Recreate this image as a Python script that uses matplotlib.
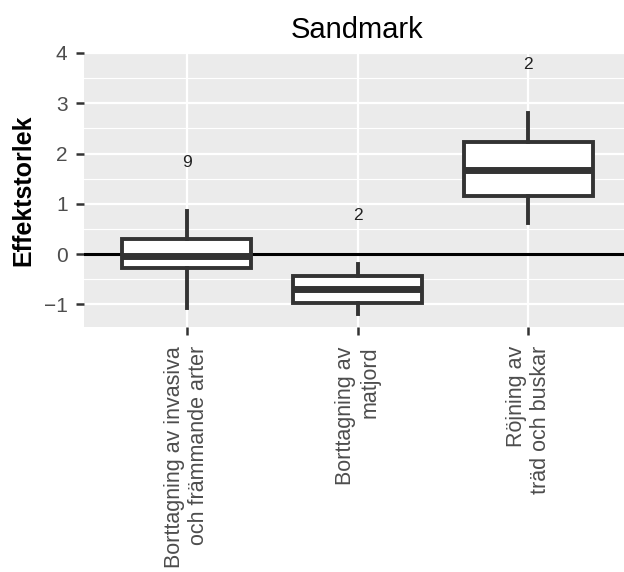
import numpy as np
import matplotlib
matplotlib.use("Agg")
import matplotlib.pyplot as plt

plt.rcParams['font.family'] = ['Liberation Sans', 'DejaVu Sans']

# data
categories = ["Borttagning av invasiva\noch främmande arter",
              "Borttagning av\nmatjord",
              "Röjning av\nträd och buskar"]
whisk_lo = [-1.08, -1.20, 0.61]
q1 = [-0.27, -0.98, 1.15]
median = [-0.04, -0.70, 1.68]
q3 = [0.31, -0.44, 2.23]
whisk_hi = [0.86, -0.19, 2.80]
n_labels = ["9", "2", "2"]
n_label_y = [1.83, 0.76, 3.78]

title = "Sandmark"
ylabel = "Effektstorlek"
yticks = [-1, 0, 1, 2, 3, 4]

W, H = 624, 572
fig = plt.figure(figsize=(W / 100, H / 100), dpi=100)
# panel runs slightly past the right edge, as in the cropped reference
left, right, top, bottom = 84, 631, 53, 327
ax = fig.add_axes([left / W, 1 - bottom / H, (right - left) / W, (bottom - top) / H])
ax.set_facecolor('#EBEBEB')
for s in ax.spines.values():
    s.set_visible(False)

pos = np.arange(1, len(categories) + 1)
stats = []
for i in range(len(categories)):
    stats.append(dict(whislo=whisk_lo[i], q1=q1[i], med=median[i],
                      q3=q3[i], whishi=whisk_hi[i], fliers=[]))

box_col = '#333333'
ax.bxp(stats, positions=pos, widths=0.75, showcaps=False, showfliers=False,
       patch_artist=True,
       boxprops=dict(facecolor='white', edgecolor=box_col, linewidth=2.8),
       medianprops=dict(color=box_col, linewidth=5, solid_capstyle='butt'),
       whiskerprops=dict(color=box_col, linewidth=2.8),
       zorder=3)

ax.axhline(0, color='black', linewidth=2.2, zorder=2)

for x, y, t in zip(pos, n_label_y, n_labels):
    ax.text(x, y, t, ha='center', va='center', fontsize=12.5, color='#222222',
            family=['Liberation Sans Narrow', 'Liberation Sans'], zorder=4)

ax.set_xlim(0.4, len(categories) + 0.6)
ax.set_ylim(-1.45, 4.0)

ax.set_yticks(yticks)
ax.set_yticklabels([str(v).replace('-', '\u2212') for v in yticks])
ax.set_yticks(np.arange(-0.5, 4.0, 1.0), minor=True)
ax.set_xticks(pos)
ax.set_xticklabels(categories, rotation=90, ha='center', va='top',
                   multialignment='right', fontsize=15.5)

ax.grid(which='major', color='white', linewidth=1.6, zorder=1)
ax.grid(which='minor', axis='y', color='white', linewidth=0.8, zorder=1)
ax.set_axisbelow(True)

ax.tick_params(axis='both', which='major', length=5.8, width=1.8,
               color=box_col, labelcolor='#4D4D4D')
ax.tick_params(axis='y', which='major', labelsize=15, pad=6)
ax.tick_params(axis='y', which='minor', length=0)
ax.tick_params(axis='x', which='major', pad=8)

ax.set_ylabel(ylabel, fontsize=18, fontweight='bold', labelpad=6)
ax.set_title(title, fontsize=21, pad=11)

fig.savefig('out.png', dpi=100)
